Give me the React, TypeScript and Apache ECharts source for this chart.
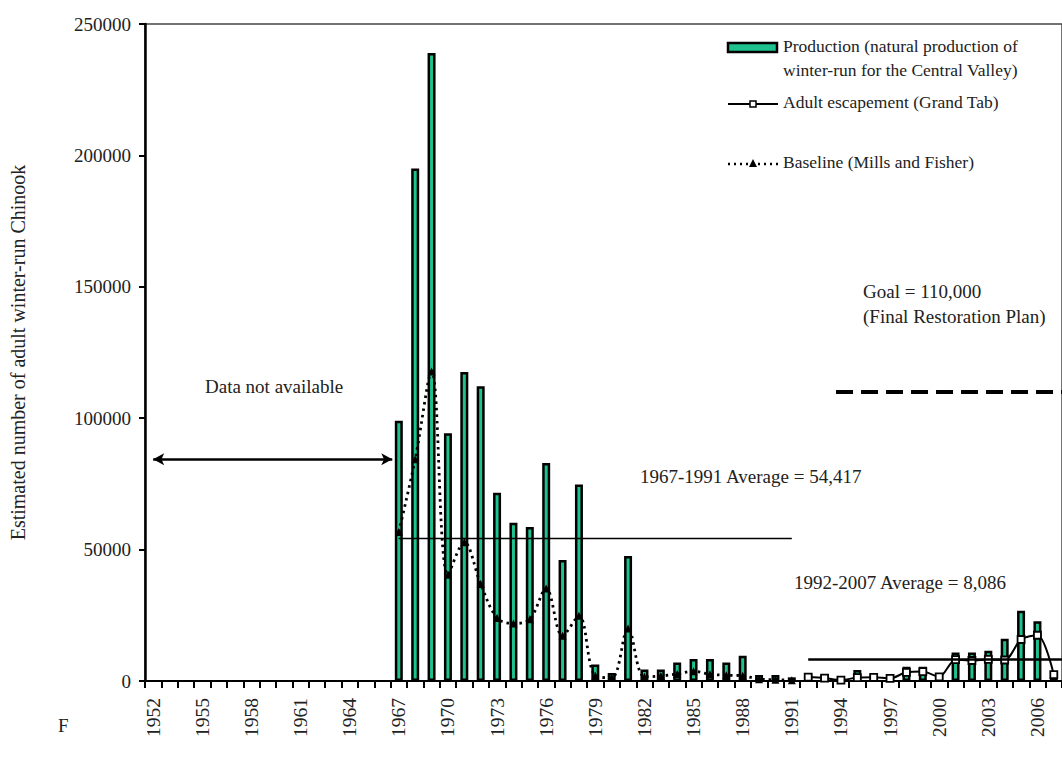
import React, { useEffect, useRef } from "react";
import * as echarts from "echarts";

const years = [
  "1952", "1953", "1954", "1955", "1956", "1957", "1958", "1959", "1960", "1961",
  "1962", "1963", "1964", "1965", "1966", "1967", "1968", "1969", "1970", "1971",
  "1972", "1973", "1974", "1975", "1976", "1977", "1978", "1979", "1980", "1981",
  "1982", "1983", "1984", "1985", "1986", "1987", "1988", "1989", "1990", "1991",
  "1992", "1993", "1994", "1995", "1996", "1997", "1998", "1999", "2000", "2001",
  "2002", "2003", "2004", "2005", "2006", "2007",
];

// 1952-1966: data not available
const noData = [null, null, null, null, null, null, null, null, null, null, null, null, null, null, null];

// Production (natural production of winter-run for the Central Valley), 1967-2007
const production = [
  99000, 195000, 239000, 94300, 117600, 112200, 71600, 60200, 58600, 83000,
  46000, 74800, 6300, 3000, 47600, 4400, 4400, 7000, 8400, 8400,
  7000, 9600, 2300, 2300, 1400,
  2900, 2300, 1650, 4200, 2660, 2660, 5450, 5450, 2300, 10800,
  10800, 11500, 16100, 26750, 22700, 1200,
];

// Baseline (Mills and Fisher), 1967-1991
const baseline = [
  56700, 84400, 117800, 40400, 52800, 36900, 24000, 21900, 23500, 35200,
  17200, 24800, 2000, 1200, 20000, 1600, 1900, 2700, 3700, 2600,
  2200, 2000, 700, 500, 300,
];

// Adult escapement (Grand Tab), 1992-2007
const escapement = [
  1500, 1100, 300, 1300, 1400, 1000, 3300, 3600, 1600, 8100,
  7800, 8200, 8000, 15800, 17400, 2400,
];

const avgEarly = { from: 1967, to: 1991, value: 54417 };
const avgLate = { from: 1992, to: 2007.5, value: 8086 };
const goal = { from: 1993.7, to: 2007.5, value: 110000 };
const naArrow = { from: 1952, to: 1966.6, value: 84400 };

const FONT = "'Liberation Serif', 'Times New Roman', serif";
const TXT = "#222";
const GREEN = "#1DC28F";

export default function App() {
  const ref = useRef<HTMLDivElement>(null);

  useEffect(() => {
    if (!ref.current) return;
    const chart = echarts.init(ref.current, undefined, { renderer: "svg" });

    const prodData = [...noData, ...production];
    const baseData = [...noData, ...baseline, ...escapement.map(() => null)];
    const escData = [...noData, ...baseline.map(() => null), ...escapement];

    const textStyle = (size: number) => ({ fontFamily: FONT, fontSize: size, fill: TXT });

    const option: any = {
      animation: false,
      backgroundColor: "#fff",
      grid: {
        left: 142,
        top: 24,
        width: 927,
        height: 657,
        show: true,
        borderColor: "#444",
        borderWidth: 1.5,
        backgroundColor: "transparent",
      },
      xAxis: [
        {
          type: "category",
          data: years,
          boundaryGap: true,
          axisLine: { show: true, lineStyle: { color: "#000", width: 2.2 } },
          axisTick: { show: true, interval: 0, length: 7, lineStyle: { color: "#000", width: 2 } },
          axisLabel: {
            interval: 2,
            rotate: 90,
            margin: 17,
            fontFamily: FONT,
            fontSize: 19.5,
            color: TXT,
          },
          splitLine: { show: false },
        },
        {
          type: "value",
          min: 1951.5,
          max: 2007.5,
          show: false,
          splitLine: { show: false },
        },
      ],
      yAxis: {
        type: "value",
        min: 0,
        max: 250000,
        interval: 50000,
        name: "Estimated number of adult winter-run Chinook",
        nameLocation: "middle",
        nameRotate: 90,
        nameGap: 117,
        nameTextStyle: { fontFamily: FONT, fontSize: 20, color: TXT },
        axisLine: { show: true, lineStyle: { color: "#000", width: 2.5 } },
        axisTick: { show: true, length: 6, lineStyle: { color: "#000", width: 2 } },
        axisLabel: {
          margin: 14,
          fontFamily: FONT,
          fontSize: 19,
          color: TXT,
          formatter: (v: number) => String(v),
        },
        splitLine: { show: false },
      },
      series: [
        {
          name: "Production",
          type: "bar",
          data: prodData,
          barWidth: 8,
          itemStyle: { color: GREEN, borderColor: "#000", borderWidth: 2.5 },
          z: 2,
        },
        {
          name: "Baseline",
          type: "line",
          data: baseData,
          smooth: 0.35,
          connectNulls: false,
          symbol: "triangle",
          symbolSize: 8,
          lineStyle: { color: "#000", width: 2.8, type: [2.5, 4] },
          itemStyle: { color: "#000" },
          z: 3,
        },
        {
          name: "Adult escapement",
          type: "line",
          data: escData,
          smooth: 0.3,
          connectNulls: false,
          symbol: "rect",
          symbolSize: 7,
          lineStyle: { color: "#000", width: 2 },
          itemStyle: { color: "#fff", borderColor: "#000", borderWidth: 1.8 },
          z: 4,
        },
        {
          name: "annotations",
          type: "line",
          xAxisIndex: 1,
          data: [],
          silent: true,
          markLine: {
            silent: true,
            animation: false,
            symbol: "none",
            label: { show: false },
            data: [
              [
                { coord: [avgEarly.from, avgEarly.value], lineStyle: { color: "#000", width: 1.3, type: "solid" } },
                { coord: [avgEarly.to, avgEarly.value] },
              ],
              [
                { coord: [avgLate.from, avgLate.value], lineStyle: { color: "#000", width: 2.5, type: "solid" } },
                { coord: [avgLate.to, avgLate.value] },
              ],
              [
                { coord: [goal.from, goal.value], lineStyle: { color: "#000", width: 4, type: [17, 8] } },
                { coord: [goal.to, goal.value] },
              ],
              [
                {
                  coord: [naArrow.from, naArrow.value],
                  symbol: "arrow",
                  symbolSize: [9, 11],
                  lineStyle: { color: "#000", width: 2.5, type: "solid" },
                },
                { coord: [naArrow.to, naArrow.value], symbol: "arrow", symbolSize: [9, 11] },
              ],
            ],
          },
        },
      ],
      graphic: [
        { type: "text", left: 205, top: 377, style: { text: "Data not available", ...textStyle(19) } },
        { type: "text", left: 640, top: 467, style: { text: "1967-1991 Average = 54,417", ...textStyle(19) } },
        { type: "text", left: 794, top: 573, style: { text: "1992-2007 Average = 8,086", ...textStyle(19) } },
        { type: "text", left: 863, top: 282, style: { text: "Goal = 110,000", ...textStyle(19) } },
        { type: "text", left: 863, top: 307, style: { text: "(Final Restoration Plan)", ...textStyle(19) } },
        { type: "text", left: 58, top: 716, style: { text: "F", ...textStyle(19) } },
        // legend
        {
          type: "rect",
          shape: { x: 728, y: 43, width: 49, height: 9 },
          style: { fill: GREEN, stroke: "#000", lineWidth: 2.5 },
        },
        { type: "text", left: 783, top: 37, style: { text: "Production (natural production of", ...textStyle(17.5) } },
        { type: "text", left: 783, top: 61, style: { text: "winter-run for the Central Valley)", ...textStyle(17.5) } },
        {
          type: "line",
          shape: { x1: 728, y1: 104, x2: 778, y2: 104 },
          style: { stroke: "#000", lineWidth: 2 },
        },
        {
          type: "rect",
          shape: { x: 750, y: 101, width: 6, height: 6 },
          style: { fill: "#fff", stroke: "#000", lineWidth: 1.5 },
        },
        { type: "text", left: 783, top: 93, style: { text: "Adult escapement (Grand Tab)", ...textStyle(17.5) } },
        {
          type: "line",
          shape: { x1: 728, y1: 164, x2: 778, y2: 164 },
          style: { stroke: "#000", lineWidth: 2.5, lineDash: [2, 4] },
        },
        {
          type: "polygon",
          shape: { points: [[753, 159], [749, 167], [757, 167]] },
          style: { fill: "#000" },
        },
        { type: "text", left: 783, top: 153, style: { text: "Baseline (Mills and Fisher)", ...textStyle(17.5) } },
      ],
    };

    chart.setOption(option);
    return () => chart.dispose();
  }, []);

  return (
    <div
      ref={ref}
      style={{ position: "fixed", left: 0, top: 0, width: 1062, height: 761, background: "#fff" }}
    />
  );
}
